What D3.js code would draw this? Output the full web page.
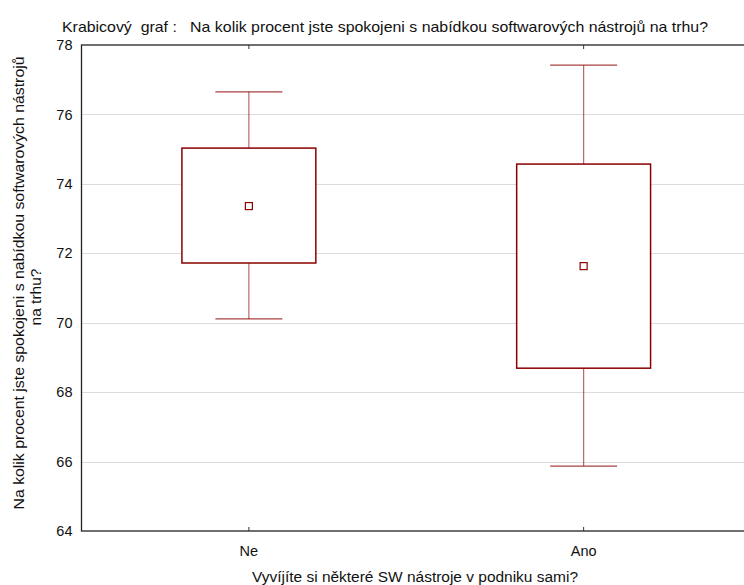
<!DOCTYPE html>
<html>
<head>
<meta charset="utf-8">
<script src="https://cdn.jsdelivr.net/npm/d3@7"></script>
<style>
  body { margin: 0; background: #fff; }
  svg { display: block; font-family: Arial, "Liberation Sans", sans-serif; }
</style>
</head>
<body>
<div id="chart"></div>
<script>
// data
const groups = ['Ne', 'Ano'];
const whiskerLow = [70.11, 65.87];
const boxLow = [71.72, 68.69];
const means = [73.36, 71.63];
const boxHigh = [75.03, 74.57];
const whiskerHigh = [76.65, 77.42];
const yTicks = [64, 66, 68, 70, 72, 74, 76, 78];

const width = 744, height = 585;
const margin = { top: 45, right: -7, bottom: 54, left: 81.5 };
const innerWidth = width - margin.left - margin.right;
const innerHeight = height - margin.top - margin.bottom;
const boxColor = '#8b0000';

const svg = d3.select('#chart').append('svg').attr('width', width).attr('height', height);

const x = d3.scaleBand().domain(groups).range([0, innerWidth]).padding(0);
const y = d3.scaleLinear().domain([64, 78]).range([innerHeight, 0]);

const g = svg.append('g').attr('transform', `translate(${margin.left},${margin.top})`);

// grid
g.append('g').selectAll('line').data(yTicks.filter(t => t > 64 && t < 78)).enter().append('line')
  .attr('x1', 0).attr('x2', innerWidth)
  .attr('y1', d => Math.round(y(d)) + 0.5).attr('y2', d => Math.round(y(d)) + 0.5)
  .attr('stroke', '#dcdcdc').attr('stroke-width', 1);

// y axis labels
const yAxis = d3.axisLeft(y).tickValues(yTicks).tickSize(0).tickPadding(9).tickFormat(d3.format('d'));
const ya = g.append('g').call(yAxis);
ya.select('.domain').remove();
ya.selectAll('text').attr('font-size', 14.5).attr('fill', '#111').attr('font-family', 'Arial, "Liberation Sans", sans-serif');

// x axis labels
const xAxis = d3.axisBottom(x).tickSize(0).tickPadding(15);
const xa = g.append('g').attr('transform', `translate(0,${innerHeight})`).call(xAxis);
xa.select('.domain').remove();
xa.selectAll('text').attr('font-size', 14.5).attr('fill', '#111').attr('font-family', 'Arial, "Liberation Sans", sans-serif');

// frame
g.append('rect').attr('x', 0).attr('y', 0).attr('width', innerWidth).attr('height', innerHeight)
  .attr('fill', 'none').attr('stroke', '#222').attr('stroke-width', 1.3);

// inner ticks top and bottom
groups.forEach(gr => {
  const cx = x(gr) + x.bandwidth() / 2;
  g.append('line').attr('x1', cx).attr('x2', cx).attr('y1', 0).attr('y2', 4).attr('stroke', '#333');
  g.append('line').attr('x1', cx).attr('x2', cx).attr('y1', innerHeight).attr('y2', innerHeight - 4).attr('stroke', '#333');
});

// boxes
const bw = x.bandwidth() * 0.4;
const cw = x.bandwidth() * 0.2;
groups.forEach((gr, i) => {
  const cx = x(gr) + x.bandwidth() / 2;
  const bg = g.append('g');
  bg.append('line').attr('x1', cx).attr('x2', cx).attr('y1', y(whiskerHigh[i])).attr('y2', y(boxHigh[i]))
    .attr('stroke', boxColor).attr('stroke-opacity', 0.6).attr('stroke-width', 1.2);
  bg.append('line').attr('x1', cx).attr('x2', cx).attr('y1', y(boxLow[i])).attr('y2', y(whiskerLow[i]))
    .attr('stroke', boxColor).attr('stroke-opacity', 0.6).attr('stroke-width', 1.2);
  bg.append('line').attr('x1', cx - cw / 2).attr('x2', cx + cw / 2).attr('y1', y(whiskerHigh[i])).attr('y2', y(whiskerHigh[i]))
    .attr('stroke', boxColor).attr('stroke-opacity', 0.75).attr('stroke-width', 1.3);
  bg.append('line').attr('x1', cx - cw / 2).attr('x2', cx + cw / 2).attr('y1', y(whiskerLow[i])).attr('y2', y(whiskerLow[i]))
    .attr('stroke', boxColor).attr('stroke-opacity', 0.75).attr('stroke-width', 1.3);
  bg.append('rect').attr('x', cx - bw / 2).attr('y', y(boxHigh[i]))
    .attr('width', bw).attr('height', y(boxLow[i]) - y(boxHigh[i]))
    .attr('fill', '#fff').attr('stroke', boxColor).attr('stroke-width', 1.5);
  bg.append('rect').attr('x', cx - 3.5).attr('y', y(means[i]) - 3.5).attr('width', 7).attr('height', 7)
    .attr('fill', '#fff').attr('stroke', boxColor).attr('stroke-width', 1.2);
});

// title
svg.append('text').attr('x', 62).attr('y', 32).attr('font-size', 15).attr('fill', '#111')
  .style('white-space', 'pre')
  .attr('textLength', 646).attr('lengthAdjust', 'spacingAndGlyphs')
  .text('Krabicový  graf :   Na kolik procent jste spokojeni s nabídkou softwarových nástrojů na trhu?');

// x title
svg.append('text').attr('x', 252).attr('y', 582).attr('font-size', 15.5).attr('fill', '#111')
  .attr('textLength', 326).attr('lengthAdjust', 'spacingAndGlyphs')
  .text('Vyvíjíte si některé SW nástroje v podniku sami?');

// y title
const yt = svg.append('text').attr('transform', 'translate(24,283) rotate(-90)')
  .attr('font-size', 15.5).attr('fill', '#111');
yt.append('tspan').attr('x', -226.5).attr('dy', 0)
  .attr('textLength', 453).attr('lengthAdjust', 'spacingAndGlyphs')
  .text('Na kolik procent jste spokojeni s nabídkou softwarových nástrojů');
yt.append('tspan').attr('x', -14).attr('dy', 17).attr('text-anchor', 'middle').text('na trhu?');
</script>
</body>
</html>
